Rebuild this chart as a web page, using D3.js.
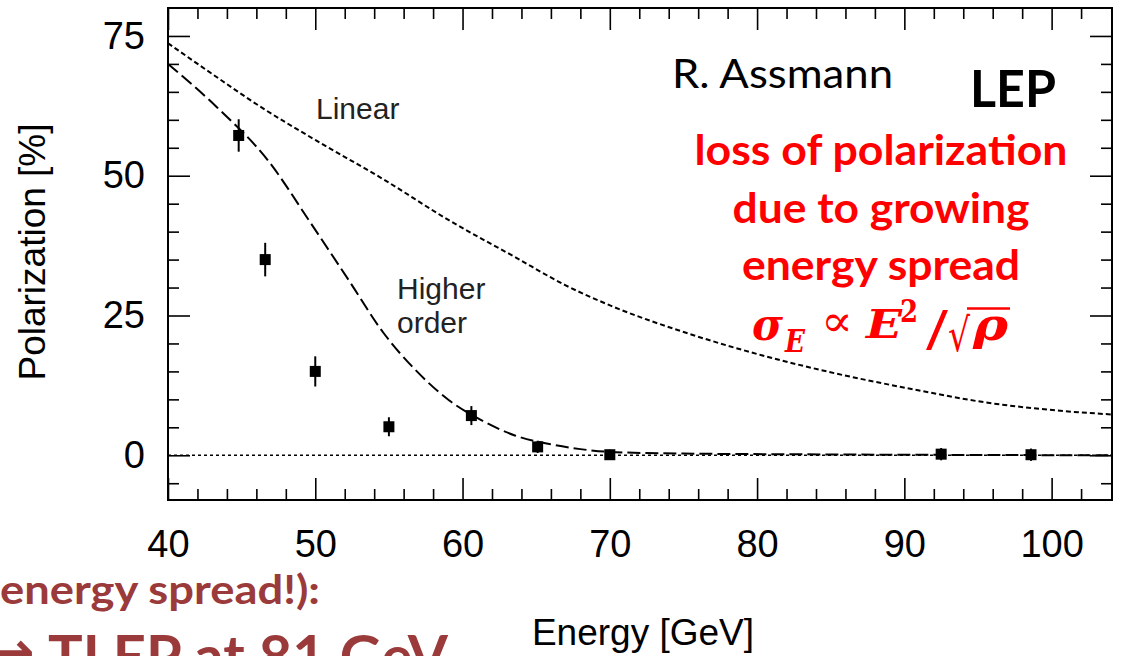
<!DOCTYPE html>
<html><head><meta charset="utf-8">
<script src="https://cdn.jsdelivr.net/npm/d3@7"></script>
<style>
html,body{margin:0;padding:0;background:#fff;}
svg{display:block;}
</style></head>
<body>
<svg id="chart" width="1123" height="656"></svg>
<script>
// ---- data ----
const xMajorTicks = [40, 50, 60, 70, 80, 90, 100];
const yMajorTicks = [0, 25, 50, 75];
const measEnergy = [44.8, 46.6, 50.0, 55.0, 60.6, 65.1, 70.0, 92.5, 98.6];
const measPolarization = [57.2, 35.0, 15.0, 5.1, 7.1, 1.5, 0.1, 0.2, 0.1];
const measError = [2.9, 3.0, 2.7, 1.7, 1.7, 1.1, 0.9, 1.1, 1.1];
const linearEnergy = [40, 43, 46.3, 50, 54.6, 59.1, 63.6, 67, 70.3, 75.3, 80.3, 85.4, 90.4, 95.4, 100.4, 104.1];
const linearPol = [73.7, 68.2, 62.3, 56.4, 49.4, 42.0, 35.4, 30.4, 26.5, 21.8, 17.9, 14.6, 11.9, 9.5, 8.0, 7.3];
const higherEnergy = [40, 43.3, 46.8, 49.7, 52.4, 54.6, 56.9, 59.1, 61.4, 63.6, 65.9, 68, 70, 75, 85, 95, 104.1];
const higherPol = [70.0, 62.3, 52.7, 41.5, 30.8, 22.0, 15.0, 9.8, 6.1, 3.5, 2.0, 1.1, 0.6, 0.3, 0.15, 0.05, 0];

const svg = d3.select("#chart");
const L = 168, R = 1112, T = 8, B = 500;
const x = d3.scaleLinear().domain([40, 104.1]).range([L, R]);
const y = d3.scaleLinear().domain([-8, 80]).range([B, T]);

const xMinor = d3.range(42, 104, 2).filter(v => v % 10 !== 0);
const yMinor = d3.range(-5, 80, 5).filter(v => v % 25 !== 0);
const tickFont = "'Liberation Sans', Arial, sans-serif";

function styleAxis(g) {
  g.select(".domain").remove();
  g.selectAll(".tick line").attr("stroke", "#000").attr("stroke-width", 1.6);
  g.selectAll(".tick text").attr("font-family", tickFont).attr("font-size", 38).attr("fill", "#000");
}
// bottom
svg.append("g").attr("transform", `translate(0,${B})`)
  .call(d3.axisBottom(x).tickValues(xMajorTicks).tickSize(-22).tickPadding(30).tickFormat(d3.format("d"))).call(styleAxis);
svg.append("g").attr("transform", `translate(0,${B})`)
  .call(d3.axisBottom(x).tickValues(xMinor).tickSize(-11).tickFormat("")).call(styleAxis);
// top
svg.append("g").attr("transform", `translate(0,${T})`)
  .call(d3.axisTop(x).tickValues(xMajorTicks).tickSize(-22).tickFormat("")).call(styleAxis);
svg.append("g").attr("transform", `translate(0,${T})`)
  .call(d3.axisTop(x).tickValues(xMinor).tickSize(-11).tickFormat("")).call(styleAxis);
// left
svg.append("g").attr("transform", `translate(${L},0)`)
  .call(d3.axisLeft(y).tickValues(yMajorTicks).tickSize(-22).tickPadding(23).tickFormat(d3.format("d"))).call(styleAxis);
svg.append("g").attr("transform", `translate(${L},0)`)
  .call(d3.axisLeft(y).tickValues(yMinor).tickSize(-11).tickFormat("")).call(styleAxis);
// right
svg.append("g").attr("transform", `translate(${R},0)`)
  .call(d3.axisRight(y).tickValues(yMajorTicks).tickSize(-22).tickFormat("")).call(styleAxis);
svg.append("g").attr("transform", `translate(${R},0)`)
  .call(d3.axisRight(y).tickValues(yMinor).tickSize(-11).tickFormat("")).call(styleAxis);

// frame
svg.append("rect").attr("x", L).attr("y", T).attr("width", R - L).attr("height", B - T)
  .attr("fill", "none").attr("stroke", "#000").attr("stroke-width", 2);

// zero line
svg.append("line").attr("x1", x(40)).attr("x2", x(104.1)).attr("y1", y(0)).attr("y2", y(0))
  .attr("stroke", "#000").attr("stroke-width", 1.4).attr("stroke-dasharray", "3,3");

const line = d3.line().x(d => x(d[0])).y(d => y(d[1])).curve(d3.curveMonotoneX);
svg.append("path").datum(d3.zip(linearEnergy, linearPol)).attr("d", line)
  .attr("fill", "none").attr("stroke", "#000").attr("stroke-width", 2).attr("stroke-dasharray", "5,3");
svg.append("path").datum(d3.zip(higherEnergy, higherPol)).attr("d", line)
  .attr("fill", "none").attr("stroke", "#000").attr("stroke-width", 2).attr("stroke-dasharray", "13,5");

// measured points
const pts = d3.zip(measEnergy, measPolarization, measError);
const pg = svg.append("g");
pg.selectAll("line.err").data(pts).join("line")
  .attr("x1", d => x(d[0])).attr("x2", d => x(d[0]))
  .attr("y1", d => y(d[1] - d[2])).attr("y2", d => y(d[1] + d[2]))
  .attr("stroke", "#000").attr("stroke-width", 2);
pg.selectAll("rect.pt").data(pts).join("rect")
  .attr("x", d => x(d[0]) - 5.5).attr("y", d => y(d[1]) - 5.5)
  .attr("width", 11).attr("height", 11).attr("fill", "#000");

// curve labels
const lab = (t, xx, yy) => svg.append("text").attr("x", xx).attr("y", yy).text(t)
  .attr("font-family", tickFont).attr("font-size", 30).attr("fill", "#222");
lab("Linear", 316, 119);
lab("Higher", 397, 299);
lab("order", 397, 333);

// axis titles
svg.append("text").attr("transform", "translate(45,252) rotate(-90)").attr("text-anchor", "middle")
  .attr("font-family", tickFont).attr("font-size", 37).text("Polarization [%]");
svg.append("text").attr("x", 643).attr("y", 645).attr("text-anchor", "middle")
  .attr("font-family", tickFont).attr("font-size", 37).text("Energy [GeV]");

// annotations
const calib = "Lato, 'Open Sans', sans-serif";
svg.append("text").attr("x", 672).attr("y", 88).attr("font-family", calib).attr("font-size", 40)
  .attr("textLength", 221).attr("lengthAdjust", "spacingAndGlyphs").text("R. Assmann");
svg.append("text").attr("x", 970).attr("y", 107).attr("font-family", calib).attr("font-weight", "bold")
  .attr("font-size", 52).attr("textLength", 86).attr("lengthAdjust", "spacingAndGlyphs").text("LEP");
const redLines = [["loss of polarization", 165, 373], ["due to growing", 223, 297], ["energy spread", 280, 278]];
redLines.forEach(([t, yy, w]) => svg.append("text").attr("x", 881 - w / 2).attr("y", yy)
  .attr("font-family", calib).attr("font-weight", "bold").attr("font-size", 42).attr("fill", "#ff0000")
  .attr("textLength", w).attr("lengthAdjust", "spacingAndGlyphs").text(t));

// formula  sigma_E ∝ E^2 / sqrt(rho): [glyph, x, baseline, size, width, italic, bold]
const serif = "'DejaVu Serif', serif";
const formula = [
  ["σ", 752, 340, 44, 31, true, true],
  ["E", 785, 352, 32, 20, true, true],
  ["∝", 821, 336, 44, 32, false, false],
  ["E", 866, 338, 40, 36, true, true],
  ["2", 900, 322, 32, 18, false, true],
  ["/", 926, 346, 48, 22, false, false],
  ["√", 948, 351, 46, 22, false, false],
  ["ρ", 973, 340, 44, 35, true, true]
];
const fg = svg.append("g").attr("fill", "#ff0000").attr("font-family", serif);
formula.forEach(([c, xx, yy, s, w, it, bd]) => fg.append("text")
  .attr("x", xx).attr("y", yy).attr("font-size", s)
  .attr("font-style", it ? "italic" : "normal").attr("font-weight", bd ? "bold" : "normal")
  .attr("textLength", w).attr("lengthAdjust", "spacingAndGlyphs").text(c));
svg.append("line").attr("x1", 967).attr("x2", 1010)
  .attr("y1", 308.5).attr("y2", 308.5).attr("stroke", "#ff0000").attr("stroke-width", 2.6);

// bottom-left slide text
const dark = "#9b3a3a";
svg.append("text").attr("x", 0).attr("y", 604).attr("font-family", calib).attr("font-weight", "bold")
  .attr("font-size", 40).attr("fill", dark).attr("textLength", 320).attr("lengthAdjust", "spacingAndGlyphs")
  .text("energy spread!):");
svg.append("text").attr("x", -14).attr("y", 672).attr("font-family", "'DejaVu Sans', sans-serif").attr("font-weight", "bold")
  .attr("font-size", 58).attr("fill", dark).text("→");
svg.append("text").attr("x", 48).attr("y", 677).attr("font-family", calib).attr("font-weight", "bold")
  .attr("font-size", 58).attr("fill", dark).attr("textLength", 400).attr("lengthAdjust", "spacingAndGlyphs")
  .text("TLEP at 81 GeV");
</script>
</body></html>
